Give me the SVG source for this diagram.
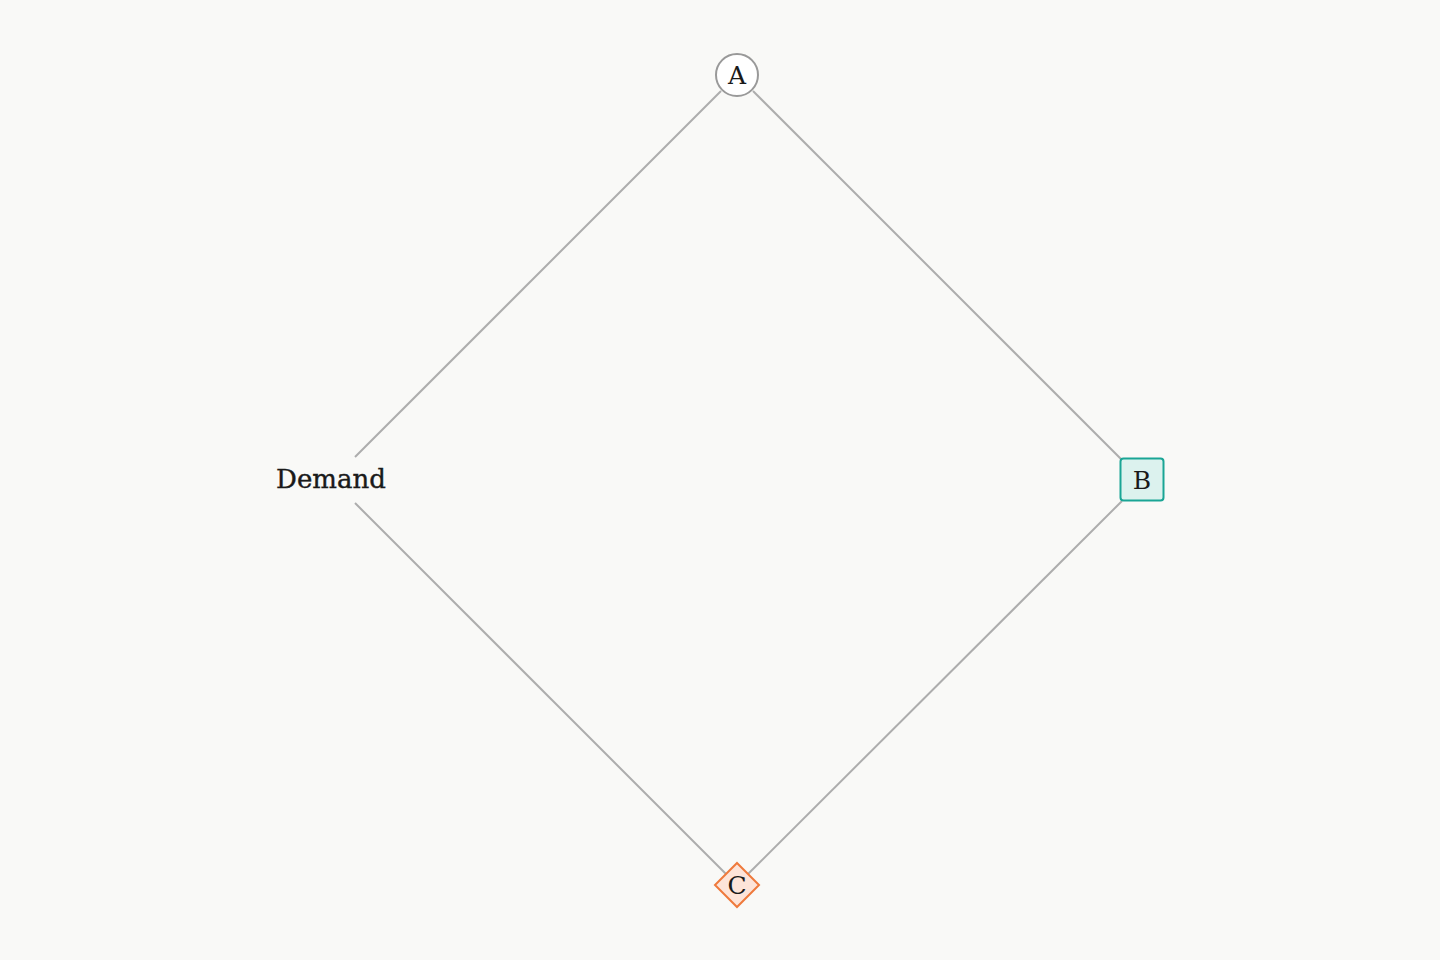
<svg xmlns="http://www.w3.org/2000/svg" width="1440" height="960" viewBox="0 0 1440 960">
<style>
.edge{stroke:#adadad;stroke-width:2;fill:none}
.lbl{font-family:"DejaVu Serif","Liberation Serif",serif;fill:#1a1a1a;text-anchor:middle;dominant-baseline:central}
.bold{stroke:#1a1a1a;stroke-width:0.4}
</style>
<rect width="1440" height="960" fill="#f9f9f7"/>
<g id="connectors">
<line class="edge" x1="721" y1="91" x2="355" y2="457"/>
<line class="edge" x1="753" y1="91" x2="1122" y2="460"/>
<line class="edge" x1="1122" y1="501" x2="748" y2="874"/>
<line class="edge" x1="355" y1="503" x2="726" y2="874"/>
</g>
<g id="node-demand">
<text class="lbl bold" x="331" y="479" font-size="26">Demand</text>
</g>
<g id="node-a">
<circle cx="737" cy="75" r="21" fill="#ffffff" stroke="#999999" stroke-width="2"/>
<text class="lbl" x="737" y="75" font-size="25">A</text>
</g>
<g id="node-b">
<rect x="1120.5" y="458.5" width="43" height="42" rx="3" fill="#dcf2ee" stroke="#1aa595" stroke-width="2"/>
<text class="lbl" x="1142" y="480" font-size="25">B</text>
</g>
<g id="node-c">
<polygon points="737,863 759,885 737,907 715,885" fill="#fde4d9" stroke="#ef7a3c" stroke-width="2"/>
<text class="lbl" x="737" y="885" font-size="25">C</text>
</g>
</svg>
